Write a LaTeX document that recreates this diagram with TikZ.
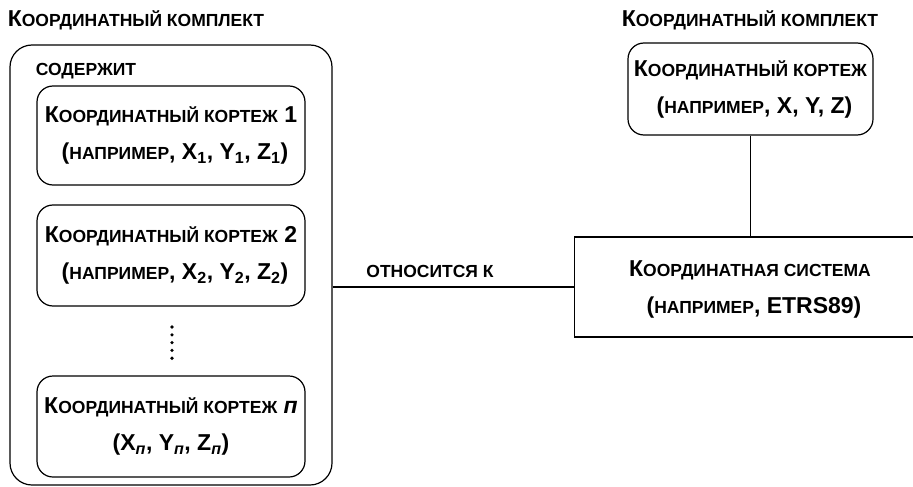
\documentclass[tikz,border=0pt]{standalone}
\usepackage{fontspec}
\setmainfont{Liberation Sans}
\newcommand{\sm}[1]{{\fontsize{17.5}{20}\selectfont #1}}
\tikzset{
  x=1pt, y=-1pt,
  every node/.style={font=\fontsize{23}{37}\selectfont\bfseries, inner sep=0pt},
  rbox/.style={draw, line width=1.2pt, rounded corners=16pt, minimum width=268pt, align=center},
  plain/.style={line width=1.2pt},
  dotc/.style={fill=black}
}
\begin{document}
\begin{tikzpicture}
\clip (0,0) rectangle (913,487);
\useasboundingbox (0,0) rectangle (913,487);
% left
\node (title1) at (136,20) {К\sm{ООРДИНАТНЫЙ КОМПЛЕКТ}};
\node[draw, line width=1.2pt, rounded corners=22pt, minimum width=322pt, minimum height=440pt] (outer) at (171,265) {};
\node (contains) at (86,71) {\sm{СОДЕРЖИТ}};
\node[rbox, minimum height=99pt] (box1) at (171,135.5) {К\sm{ООРДИНАТНЫЙ КОРТЕЖ} 1\\ \hspace*{8pt}(\sm{НАПРИМЕР}, X\textsubscript{1}, Y\textsubscript{1}, Z\textsubscript{1})};
\node[rbox, minimum height=101pt] (box2) at (171,255.5) {К\sm{ООРДИНАТНЫЙ КОРТЕЖ} 2\\ \hspace*{8pt}(\sm{НАПРИМЕР}, X\textsubscript{2}, Y\textsubscript{2}, Z\textsubscript{2})};
\node[rbox, minimum height=101pt] (boxn) at (171,426.5) {К\sm{ООРДИНАТНЫЙ КОРТЕЖ} \textit{п}\\ (X\textsubscript{\textit{п}}, Y\textsubscript{\textit{п}}, Z\textsubscript{\textit{п}})};
\foreach \yy in {327,334.8,342.6,350.4,358.2} \fill[dotc] (172,\yy) circle (1.8pt);
% right
\node (title2) at (750,20) {К\sm{ООРДИНАТНЫЙ КОМПЛЕКТ}};
\node[rbox, minimum width=245pt, minimum height=92pt] (tuple) at (750.5,89) {К\sm{ООРДИНАТНЫЙ КОРТЕЖ}\\ \hspace*{8pt}(\sm{НАПРИМЕР}, X, Y, Z)};
\node[draw, line width=1.2pt, minimum width=380pt, minimum height=100pt, anchor=west] (sys) at (574,287) {};
\node[align=center] (systext) at (750,289) {К\sm{ООРДИНАТНАЯ СИСТЕМА}\\ \hspace*{8pt}(\sm{НАПРИМЕР}, ETRS89)};
\draw[plain] (tuple.south) -- (tuple.south |- sys.north);
\draw[plain] (outer.east |- sys.west) -- (sys.west);
\node (relates) at (430,271) {\sm{ОТНОСИТСЯ К}};
\end{tikzpicture}
\end{document}
